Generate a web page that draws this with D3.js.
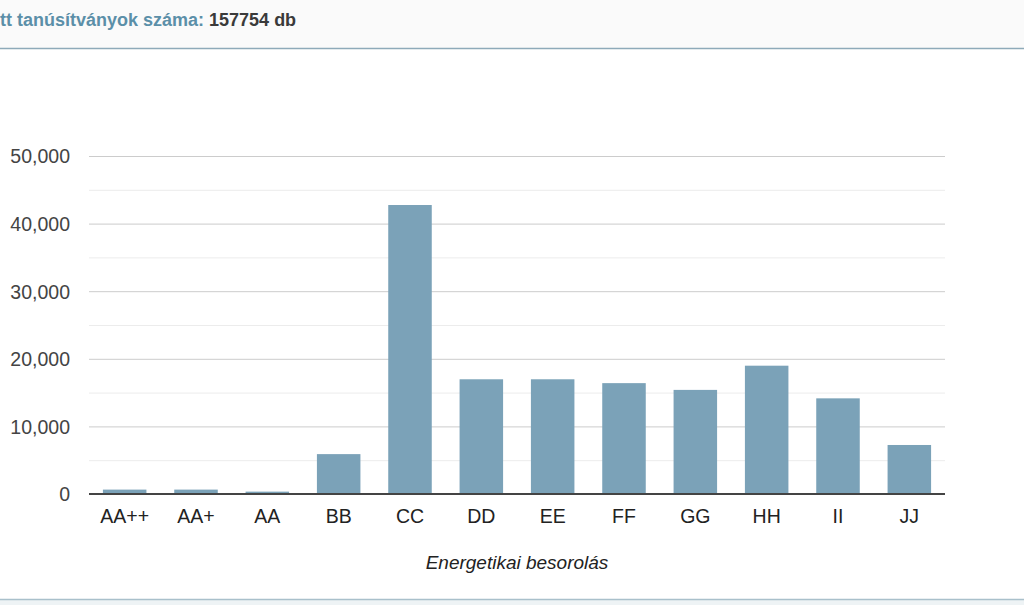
<!DOCTYPE html>
<html>
<head>
<meta charset="utf-8">
<script src="https://cdn.jsdelivr.net/npm/d3@7/dist/d3.min.js"></script>
<style>
  body { margin: 0; background: #fff; font-family: Arial, "Liberation Sans", sans-serif; }
</style>
</head>
<body>
<script>
var categories = ["AA++", "AA+", "AA", "BB", "CC", "DD", "EE", "FF", "GG", "HH", "II", "JJ"];
var counts = [650, 650, 350, 5900, 42750, 16970, 16970, 16400, 15400, 18980, 14150, 7250];
var majorTicks = [0, 10000, 20000, 30000, 40000, 50000];
var minorTicks = [5000, 15000, 25000, 35000, 45000];
var headerLabel = "tt tanúsítványok száma: ";
var headerValue = "157754 db";
var xTitle = "Energetikai besorolás";

var w = 1024, h = 605;
var svg = d3.select("body").append("svg").attr("width", w).attr("height", h);

// header strip
svg.append("rect").attr("x", 0).attr("y", 0).attr("width", w).attr("height", 48).attr("fill", "#fafafa");
svg.append("line").attr("x1", 0).attr("x2", w).attr("y1", 48.5).attr("y2", 48.5)
    .attr("stroke", "#8eaab9").attr("stroke-width", 1.5);
var head = svg.append("text").attr("x", 0).attr("y", 26)
    .style("font-size", "18px").style("font-weight", "bold");
head.append("tspan").attr("fill", "#5b8fa8").text(headerLabel);
head.append("tspan").attr("fill", "#3a3a3a").text(headerValue);

// bottom border
svg.append("rect").attr("x", 0).attr("y", 599).attr("width", w).attr("height", 6).attr("fill", "#eef3f5");
svg.append("line").attr("x1", 0).attr("x2", w).attr("y1", 599.5).attr("y2", 599.5)
    .attr("stroke", "#a9c0cb").attr("stroke-width", 1.5);

var x = d3.scaleBand().domain(categories).range([89, 945]).paddingInner(0.39).paddingOuter(0.195);
var y = d3.scaleLinear().domain([0, 50000]).range([494, 156]);

// gridlines
svg.selectAll("line.minor").data(minorTicks).enter().append("line")
    .attr("class", "minor")
    .attr("x1", 89).attr("x2", 945)
    .attr("y1", function(d) { return y(d) + 0.5 }).attr("y2", function(d) { return y(d) + 0.5 })
    .attr("stroke", "#ececec").attr("stroke-width", 1);
svg.selectAll("line.major").data(majorTicks.slice(1)).enter().append("line")
    .attr("class", "major")
    .attr("x1", 89).attr("x2", 945)
    .attr("y1", function(d) { return y(d) + 0.5 }).attr("y2", function(d) { return y(d) + 0.5 })
    .attr("stroke", "#cccccc").attr("stroke-width", 1);

// bars
svg.selectAll("rect.bar").data(counts).enter().append("rect")
    .attr("class", "bar")
    .attr("x", function(d, i) { return x(categories[i]) })
    .attr("width", x.bandwidth())
    .attr("y", function(d) { return y(d) })
    .attr("height", function(d) { return y(0) - y(d) })
    .attr("fill", "#7ba2b8");

// baseline
svg.append("line").attr("x1", 89).attr("x2", 945).attr("y1", y(0)).attr("y2", y(0))
    .attr("stroke", "#444").attr("stroke-width", 2);

// y axis
var yAxis = svg.append("g").attr("transform", "translate(70,0)")
    .call(d3.axisLeft(y).tickValues(majorTicks).tickFormat(d3.format(",")).tickSize(0).tickPadding(0));
yAxis.select(".domain").remove();
yAxis.selectAll("text").style("font-size", "19.5px").style("font-family", "Arial, 'Liberation Sans', sans-serif")
    .attr("fill", "#444").attr("dy", "0.35em");

// x axis
var xAxis = svg.append("g").attr("transform", "translate(0," + y(0) + ")")
    .call(d3.axisBottom(x).tickSize(0).tickPadding(15));
xAxis.select(".domain").remove();
xAxis.selectAll("text").style("font-size", "19.5px").style("font-family", "Arial, 'Liberation Sans', sans-serif")
    .attr("fill", "#222");

svg.append("text").attr("x", 517).attr("y", 569).attr("text-anchor", "middle")
    .style("font-size", "19px").style("font-style", "italic").attr("fill", "#222").text(xTitle);
</script>
</body>
</html>
